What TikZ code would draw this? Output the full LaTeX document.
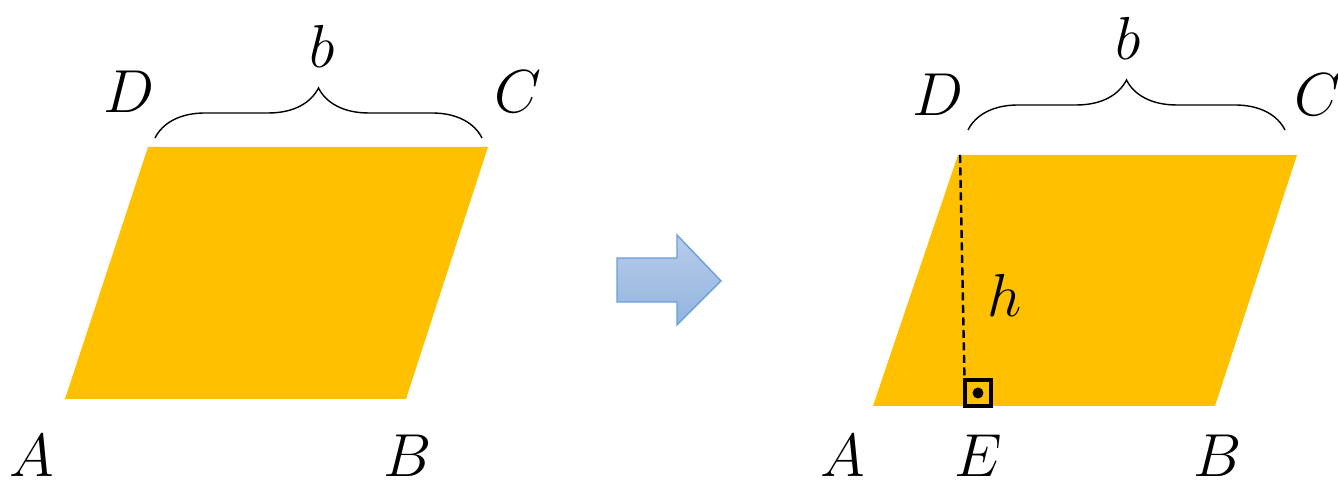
\documentclass[tikz,border=0pt]{standalone}
\usepackage{amsmath}
\usepackage{tikz}
\usepackage{xcolor}
\usetikzlibrary{decorations.pathreplacing}
\definecolor{mygold}{RGB}{255, 192, 0}
\definecolor{myblue}{RGB}{106, 159, 216}
\definecolor{mylightblue}{RGB}{184, 204, 234}
\definecolor{mymidblue}{RGB}{146, 180, 224}

\begin{document}
\begin{tikzpicture}[
          lbl/.style={font=\fontsize{17}{20}\selectfont,inner sep=0pt},
          pgram/.style={fill=mygold,draw=none},
          brc/.style={decorate,decoration={brace,amplitude=0.5cm},thin}]
        \useasboundingbox (0,0) rectangle (13.38,4.86);
        % left figure
        \coordinate (a1) at (0.65,0.87);
        \coordinate (b1) at (4.06,0.87);
        \coordinate (c1) at (4.88,3.39);
        \coordinate (d1) at (1.48,3.39);
        \fill[pgram] (a1)--(b1)--(c1)--(d1)--cycle;
        \coordinate (bl1) at (1.55,3.48);
        \coordinate (br1) at (4.82,3.48);
        \draw[brc] (bl1)--(br1);
        \node[lbl] (la1) at (0.32,0.30) {$A$};
        \node[lbl] (lb1) at (4.08,0.30) {$B$};
        \node[lbl] (lc1) at (5.18,3.94) {$C$};
        \node[lbl] (ld1) at (1.29,3.94) {$D$};
        \node[lbl] (bb1) at (3.22,4.40) {$b$};
        % arrow
        \draw[myblue,top color=mylightblue,bottom color=mymidblue]
          (6.17,2.28)--(6.77,2.28)--(6.77,2.51)--(7.21,2.05)
          --(6.77,1.61)--(6.77,1.84)--(6.17,1.84)--cycle;
        % right figure
        \coordinate (a2) at (8.73,0.80);
        \coordinate (b2) at (12.15,0.80);
        \coordinate (c2) at (12.97,3.31);
        \coordinate (d2) at (9.58,3.31);
        \coordinate (e2) at (9.65,0.80);
        \coordinate (h2) at (9.60,3.31);
        \fill[pgram] (a2)--(b2)--(c2)--(d2)--cycle;
        \draw[dash pattern=on 0.8mm off 0.45mm,line width=0.7pt] (h2)--(e2);
        \draw[line width=0.9pt] (e2) rectangle ++(0.26,0.26);
        \fill ([shift={(0.13,0.13)}]e2) circle (0.055);
        \coordinate (bl2) at (9.68,3.56);
        \coordinate (br2) at (12.85,3.56);
        \draw[brc] (bl2)--(br2);
        \node[lbl] (la2) at (8.43,0.30) {$A$};
        \node[lbl] (le2) at (9.78,0.30) {$E$};
        \node[lbl] (lb2) at (12.18,0.30) {$B$};
        \node[lbl] (lc2) at (13.18,3.91) {$C$};
        \node[lbl] (ld2) at (9.38,3.91) {$D$};
        \node[lbl] (bb2) at (11.28,4.48) {$b$};
        \node[lbl] (lh2) at (10.05,1.91) {$h$};
      \end{tikzpicture}
\end{document}
